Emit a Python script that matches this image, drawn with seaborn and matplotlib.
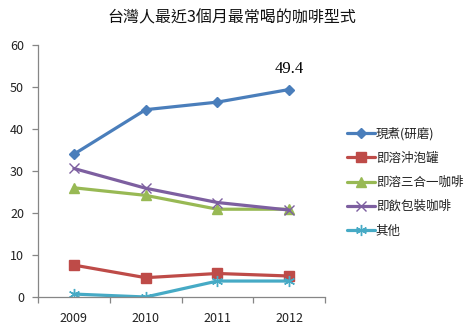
import matplotlib
matplotlib.use("Agg")
import matplotlib.pyplot as plt
import seaborn as sns
import pandas as pd

years = ["2009", "2010", "2011", "2012"]
series_names = ["現煮(研磨)", "即溶沖泡罐", "即溶三合一咖啡", "即飲包裝咖啡", "其他"]
fresh_brewed = [34.0, 44.6, 46.4, 49.4]
instant_can = [7.6, 4.6, 5.6, 5.0]
instant_3in1 = [26.0, 24.2, 20.9, 20.9]
rtd_packaged = [30.6, 25.9, 22.5, 20.7]
other = [0.7, 0.0, 3.8, 3.8]
highlight_label = "49.4"

values = [fresh_brewed, instant_can, instant_3in1, rtd_packaged, other]
colors = ["#4A7EBB", "#BE4B48", "#98B954", "#7D5FA0", "#46AAC5"]
markers = ["D", "s", "^", "x", (6, 2, 0)]
msizes = [5.5, 7.5, 7.5, 7, 8]

rows = []
for name, vals in zip(series_names, values):
    for i, (y, v) in enumerate(zip(years, vals)):
        rows.append({"series": name, "pos": i, "year": y, "value": v})
df = pd.DataFrame(rows)

sns.set_theme(style="white")
plt.rcParams["font.family"] = ["Noto Sans CJK TC", "DejaVu Sans"]

fig = plt.figure(figsize=(4.68, 3.32), dpi=100)
ax = fig.add_axes([38 / 468, 1 - 297 / 332, (325 - 38) / 468, (297 - 45) / 332])

for name, col, mk, ms in zip(series_names, colors, markers, msizes):
    sub = df[df["series"] == name]
    sns.lineplot(data=sub, x="pos", y="value", ax=ax, color=col, marker=mk,
                 markersize=ms, linewidth=2.3, markeredgecolor=col,
                 markeredgewidth=1.0, label=name, sort=False)

ax.set_xlim(-0.5, 3.5)
ax.set_ylim(0, 60)
ax.set_yticks(range(0, 61, 10))
ax.set_xticks([0, 1, 2, 3])
ax.set_xticklabels(years)
ax.set_xticks([-0.5, 0.5, 1.5, 2.5, 3.5], minor=True)
ax.tick_params(axis="x", which="major", length=0, pad=11, labelsize=9, colors="#222222")
ax.tick_params(axis="x", which="minor", length=4, width=0.9, color="#868686", direction="out", bottom=True)
ax.tick_params(axis="y", length=4, width=0.9, color="#868686", direction="out", left=True,
               labelsize=9, labelcolor="#222222", pad=6)
ax.set_xlabel("")
ax.set_ylabel("")
for side in ["top", "right"]:
    ax.spines[side].set_visible(False)
for side in ["left", "bottom"]:
    ax.spines[side].set_color("#868686")
    ax.spines[side].set_linewidth(0.9)

ax.annotate(highlight_label, xy=(3, fresh_brewed[3]), xytext=(0, 9),
            textcoords="offset points", ha="center", va="bottom",
            fontsize=12, family=["Liberation Serif"], color="black")

fig.text(232 / 468, 1 - 18 / 332, "台灣人最近3個月最常喝的咖啡型式", ha="center", va="center",
         fontsize=11.5, color="#111111")

leg = ax.legend(loc="upper left", bbox_to_anchor=((342 - 38) / 287, 1 - (122 - 45) / 252),
                frameon=False, fontsize=9, handlelength=2.2, labelspacing=0.9,
                handletextpad=0.1, borderaxespad=0)
for t in leg.get_texts():
    t.set_color("#222222")

fig.savefig("out.png", dpi=100)
